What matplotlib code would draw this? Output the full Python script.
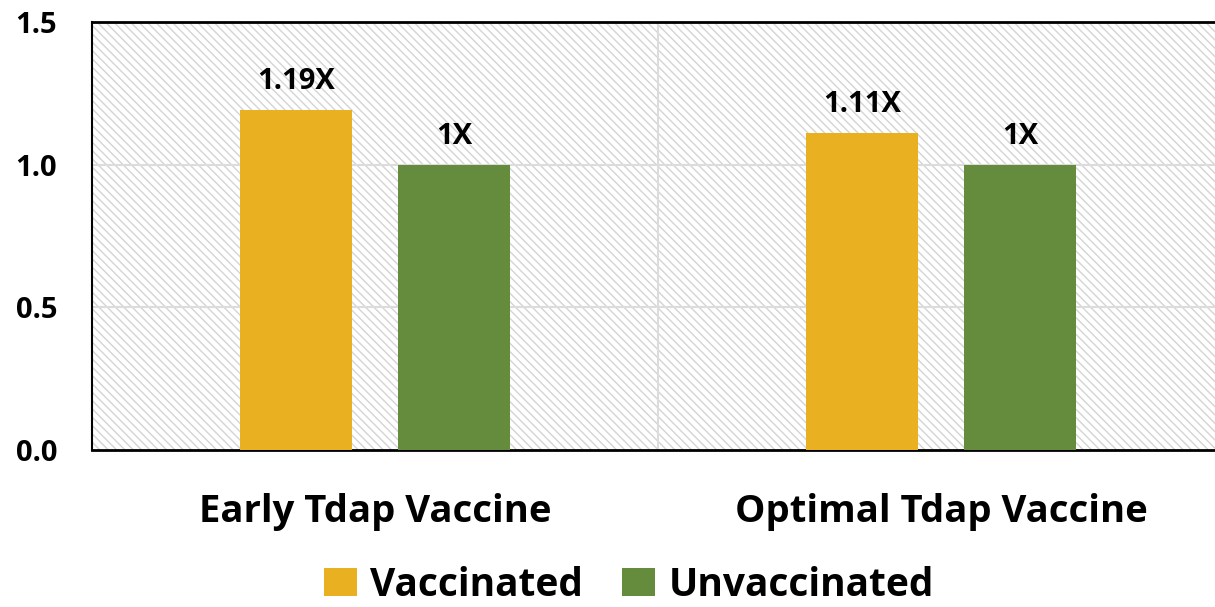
import matplotlib
matplotlib.use("Agg")
import matplotlib.pyplot as plt
from matplotlib.patches import Rectangle, Patch
import numpy as np

categories = ["Early Tdap Vaccine", "Optimal Tdap Vaccine"]
series_names = ["Vaccinated", "Unvaccinated"]
vaccinated = [1.19, 1.11]
unvaccinated = [1.0, 1.0]
vacc_labels = ["1.19X", "1.11X"]
unvacc_labels = ["1X", "1X"]
yticks = [0.0, 0.5, 1.0, 1.5]
ytick_labels = ["0.0", "0.5", "1.0", "1.5"]

FONT = "Open Sans"
YELLOW = "#E9B121"
GREEN = "#658B3C"

plt.rcParams['hatch.linewidth'] = 1.0

fig = plt.figure(figsize=(12.15, 6.07), dpi=100)
ax = fig.add_axes([92/1215, 157/607, (1224-92)/1215, 428/607])

bg = Rectangle((0, 0), 1, 1, transform=ax.transAxes, facecolor="white",
               edgecolor="#d4d4d4", hatch="\\\\\\\\", linewidth=0, zorder=0)
ax.add_patch(bg)

x = np.arange(len(categories))
w = 0.198
off = 0.14
ax.bar(x - off, vaccinated, w, color=YELLOW, zorder=3)
ax.bar(x + off, unvaccinated, w, color=GREEN, zorder=3)

for xi, v, lab in zip(x, vaccinated, vacc_labels):
    ax.text(xi - off, v + 0.1, lab, ha="center", va="center", fontsize=21,
            fontweight="bold", family=FONT, zorder=4)
for xi, v, lab in zip(x, unvaccinated, unvacc_labels):
    ax.text(xi + off, v + 0.1, lab, ha="center", va="center", fontsize=21,
            fontweight="bold", family=FONT, zorder=4)

ax.set_xlim(-0.5, 1.5)
ax.set_ylim(0, 1.5)
ax.set_yticks(yticks)
ax.set_yticklabels(ytick_labels, fontsize=21, fontweight="bold", family=FONT)
ax.set_xticks(x)
ax.set_xticklabels(categories, fontsize=27.5, fontweight="bold", family=FONT)
ax.tick_params(axis="y", length=0, pad=25)
ax.tick_params(axis="x", length=0, pad=31)

for yv in [0.5, 1.0]:
    ax.axhline(yv, color="#dcdcdc", linewidth=1.5, zorder=1)
ax.axvline(0.5, color="#dcdcdc", linewidth=1.5, zorder=1)

ax.spines["right"].set_visible(False)
ax.spines["top"].set_linewidth(2)
ax.spines["bottom"].set_linewidth(2)
ax.spines["left"].set_linewidth(1.5)

handles = [Patch(facecolor=YELLOW), Patch(facecolor=GREEN)]
fig.legend(handles, series_names, loc="center", bbox_to_anchor=(629/1215, 1-585/607),
           ncol=2, frameon=False, prop={"family": FONT, "weight": "bold", "size": 28},
           handlelength=0.85, handleheight=0.75, handletextpad=0.35, columnspacing=1.0)

fig.savefig("out.png", dpi=100)
